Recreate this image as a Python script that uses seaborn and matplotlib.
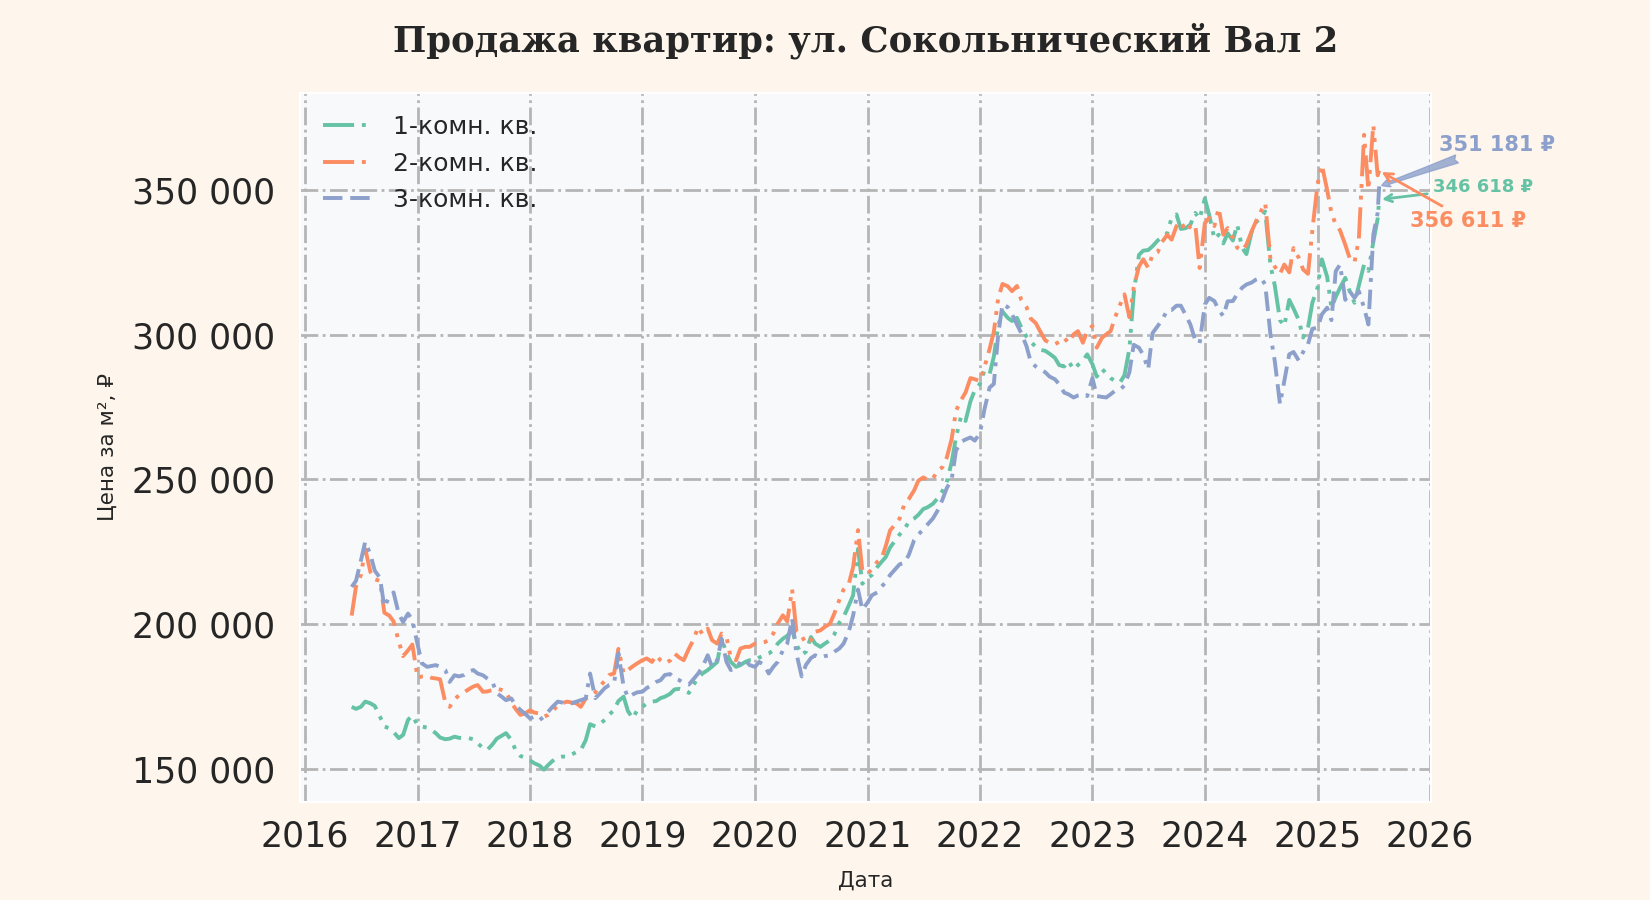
import pandas as pd
import matplotlib.pyplot as plt
import matplotlib.dates as mdates
from matplotlib.ticker import FuncFormatter
import seaborn as sns

# даты наблюдений: 1-е и 15-е число месяца + последняя точка
dates = list(pd.date_range('2016-06-01', '2025-07-15', freq='SMS')) + [pd.Timestamp('2025-07-20')]

rooms = ['1-комн. кв.', '2-комн. кв.', '3-комн. кв.']

# цена за м2, 1-комн.
price_1k = [
    171500, 170800, 171500, 173300, 172700, 171800, 168100, 164700, 164100, 162800, 160700, 161800, 167000, 168500,
    165200, 164700, 164300, 163500, 162400, 160900, 160300, 160500, 161200, 160800, 160700, 160700,
    160300, 158900, 157300, 156600, 158500, 160500, 161500, 162400, 160100, 156600, 154500, 154000,
    153000, 152000, 151200, 149800, 151400, 152800, 154000, 154300, 154300, 155000, 155900, 156600,
    160000, 165500, 164700, 165500, 167000, 168800, 170400, 173500, 175000, 170000, 167500, 170400,
    171500, 172700, 173300, 173500, 174500, 175000, 176000, 177500, 177700, 177300, 176300, 179000,
    181500, 183000, 184200, 185400, 187000, 195000, 190000, 187000, 185300, 185900, 187000, 187600,
    187600, 188500, 189300, 189900, 191000, 193300, 195000, 196000, 198000, 193000, 189500, 190500,
    195600, 193300, 192200, 193300, 194500, 196500, 200500, 202500, 206500, 210000, 226000, 214000,
    216000, 217000, 219700, 221500, 223200, 226500, 229000, 231000, 232800, 235500, 236500, 237800,
    239800, 240400, 241600, 243300, 246000, 249000, 256000, 264500, 272000, 270200, 277000, 280800,
    283000, 287500, 286300, 292500, 303000, 308000, 305800, 304700, 305800, 302500, 299300, 297500,
    295800, 294800, 294400, 293400, 292000, 289500, 289000, 290900, 288000, 289500, 291000, 293200,
    289800, 285500, 288200, 286500, 285000, 284000, 283500, 286000, 295000, 314000, 327500, 329000,
    329200, 330500, 332500, 333600, 335000, 340300, 341500, 336500, 336800, 338000, 342000, 340000,
    347000, 341400, 333000, 334500, 331500, 335000, 332500, 338000, 330000, 327800, 335500, 338800,
    340300, 342500, 324000, 317000, 305000, 303000, 312000, 309000, 305000, 299000, 302400, 311000,
    316200, 326000, 320000, 309300, 313000, 316200, 319600, 315000, 311000, 317000, 324200, 322000,
    332000, 340000, 346618,
]

# цена за м2, 2-комн.
price_2k = [
    203000, 213000, 217000, 226000, 218000, 215500, 215000, 204000, 203000, 201000, 194000, 189000, 191000, 193000,
    181500, 182000, 182200, 181500, 181300, 181000, 173000, 171500, 174000, 175500, 176500, 177500,
    178500, 179000, 176700, 176800, 177300, 177800, 177300, 176700, 173000, 170800, 168700, 169200,
    170300, 169500, 169200, 168100, 168700, 170000, 172000, 172700, 173300, 173000, 172700, 171500,
    174400, 175000, 176500, 178500, 180500, 182500, 183000, 191500, 183000, 184200, 185500, 186500,
    187600, 188200, 187000, 189300, 187500, 186500, 187500, 189900, 188500, 187600, 191600, 194500,
    199000, 196500, 198500, 194500, 193300, 196800, 195600, 188200, 187600, 191600, 192200, 192200,
    193300, 193300, 193800, 194500, 196800, 200200, 203100, 201000, 212000, 197500, 196000, 193300,
    194500, 197400, 197900, 199100, 200200, 203700, 208300, 212000, 214000, 219700, 232500, 218600,
    217500, 219000, 221500, 222600, 227000, 232400, 234500, 236500, 241600, 243300, 246200, 249600,
    250700, 249800, 250200, 253000, 254200, 257500, 264000, 273700, 277500, 280000, 285000, 284600,
    284000, 288600, 295000, 301000, 312500, 317500, 316700, 315000, 316800, 312000, 309500, 305500,
    304000, 301200, 298000, 297200, 296700, 297500, 298900, 297200, 300100, 301200, 297200, 301200,
    303000, 295500, 298900, 300100, 301200, 305800, 310400, 313900, 306000, 316200, 323500, 326000,
    323100, 327600, 328500, 332000, 334500, 332800, 337500, 339000, 335700, 337400, 338000, 323000,
    338500, 340300, 337500, 343700, 334500, 336800, 333400, 330000, 329000, 331100, 335700, 339100,
    342600, 345400, 326000, 323500, 321000, 324200, 321500, 329900, 326500, 322500, 321000, 336000,
    352000, 358600, 350000, 342000, 338000, 336000, 331000, 326500, 325000, 333000, 369000, 350000,
    372400, 355000, 356611,
]

# цена за м2, 3-комн.
price_3k = [
    212900, 215000, 222000, 228500, 224000, 218500, 216000, 206000, 209400, 211000, 203500, 200800, 203700, 201500,
    193000, 186500, 185300, 185600, 185900, 185300, 184200, 180100, 182400, 182000, 182500, 183600,
    184200, 183000, 182400, 181300, 180100, 176200, 175000, 173800, 174400, 172100, 170400, 169200,
    167500, 168100, 166900, 168100, 169800, 171500, 173300, 173000, 172700, 172700, 173300, 173800,
    174400, 183000, 174500, 176000, 178000, 179000, 179600, 190000, 178400, 174800, 175800, 176500,
    176700, 178000, 179000, 180100, 180700, 182500, 182800, 181300, 180700, 179600, 179200, 181000,
    183000, 185300, 189300, 185300, 187600, 195000, 187000, 184200, 184800, 187000, 187600, 185900,
    185300, 187000, 185900, 183000, 185300, 187000, 191000, 193300, 202000, 189900, 182000, 186000,
    188300, 189300, 188500, 189000, 189300, 190500, 191600, 193300, 197500, 203000, 212000, 205000,
    207500, 210000, 211000, 213000, 214500, 217000, 219000, 220700, 221200, 224000, 229000, 231000,
    232800, 234500, 236500, 239000, 243000, 247000, 250000, 260000, 263000, 263800, 264500, 263400,
    266000, 274000, 281700, 283000, 300000, 310500, 309500, 307000, 303500, 300500, 296000, 290500,
    289000, 288000, 287000, 285500, 284600, 282900, 280000, 279400, 278300, 279000, 279400, 278800,
    285000, 278800, 278500, 278300, 279400, 280600, 281000, 282500, 287000, 296500, 295500, 293000,
    288000, 300500, 303000, 305000, 308500, 308500, 310000, 310000, 306500, 303500, 298000, 297000,
    310400, 312700, 311600, 308500, 306400, 311500, 311600, 314000, 316200, 317300, 318000, 319000,
    319600, 317300, 300000, 290900, 276000, 284000, 293200, 294000, 291000, 294000, 296700, 302000,
    302400, 307000, 309300, 305000, 321900, 324200, 312000, 315000, 312700, 315000, 309300, 303500,
    334500, 342000, 351181,
]

colors = ['#66c2a5', '#fc8d62', '#8da0cb']
dashes = [(8, 2, 1, 2, 1, 2), (8, 2, 1, 2, 1, 2), (5, 2, 5, 2, 1, 2)]

df = pd.concat([
    pd.DataFrame({'date': dates, 'price': p, 'type': r})
    for r, p in zip(rooms, [price_1k, price_2k, price_3k])
])

sns.set_theme(style='whitegrid')
plt.rcParams['font.family'] = ['DejaVu Sans']

fig, ax = plt.subplots(figsize=(16.5, 9), dpi=100)
fig.patch.set_facecolor('#fef6ec')
ax.set_facecolor('#f8f9fa')
fig.subplots_adjust(left=0.182, right=0.867, top=0.897, bottom=0.109)

sns.lineplot(data=df, x='date', y='price', hue='type', style='type',
             hue_order=rooms, style_order=rooms,
             palette=dict(zip(rooms, colors)), dashes=dict(zip(rooms, dashes)),
             linewidth=2.8, estimator=None, ax=ax)

ax.grid(True, linestyle='-.', linewidth=2, color='#b5b5b5')
for s in ax.spines.values():
    s.set_color('white')
    s.set_linewidth(1.5)

ax.xaxis.set_major_locator(mdates.YearLocator())
ax.xaxis.set_major_formatter(mdates.DateFormatter('%Y'))
ax.yaxis.set_major_formatter(FuncFormatter(lambda v, p: f'{v:,.0f}'.replace(',', ' ')))
ax.tick_params(axis='both', labelsize=25, length=0)
ax.tick_params(axis='x', pad=13)
ax.tick_params(axis='y', pad=18)

ax.set_xlabel('Дата', fontsize=15.5, labelpad=12)
ax.set_ylabel('Цена за м², ₽', fontsize=15.5, labelpad=10)
ax.set_title('Продажа квартир: ул. Сокольнический Вал 2', fontsize=25.5,
             fontweight='bold', family='DejaVu Serif', pad=30)

handles, labels = ax.get_legend_handles_labels()
keep = [(h, l) for h, l in zip(handles, labels) if l in rooms]
ax.legend([h for h, l in keep], [l for h, l in keep], loc='upper left',
          frameon=False, fontsize=18)

# подписи последних значений
last_date = dates[-1]
ax.annotate(f'{price_3k[-1]:,} ₽'.replace(',', ' '), xy=(last_date, price_3k[-1]),
            xytext=(85, 30), textcoords='offset points', ha='center', va='center',
            fontsize=15, fontweight='bold', color=colors[2], annotation_clip=False,
            arrowprops=dict(arrowstyle='fancy', color=colors[2], alpha=0.8))
ax.annotate(f'{price_1k[-1]:,} ₽'.replace(',', ' '), xy=(last_date, price_1k[-1]),
            xytext=(75, 9), textcoords='offset points', ha='center', va='center',
            fontsize=13, fontweight='bold', color=colors[0], annotation_clip=False,
            arrowprops=dict(arrowstyle='->', color=colors[0], lw=2))
ax.annotate(f'{price_2k[-1]:,} ₽'.replace(',', ' '), xy=(last_date, price_2k[-1]),
            xytext=(64, -36), textcoords='offset points', ha='center', va='center',
            fontsize=15, fontweight='bold', color=colors[1], annotation_clip=False,
            arrowprops=dict(arrowstyle='->', color=colors[1], lw=2))

fig.savefig('out.png', dpi=100, facecolor=fig.get_facecolor())
